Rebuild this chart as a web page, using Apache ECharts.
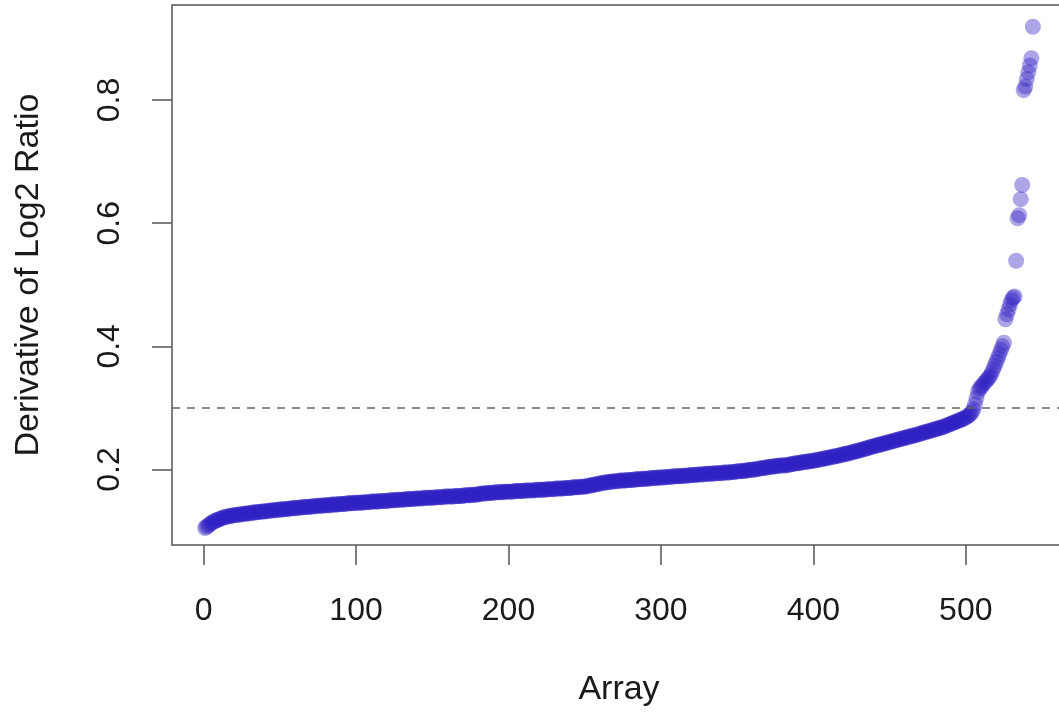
<!DOCTYPE html>
<html>
<head>
<meta charset="utf-8">
<script src="https://cdn.jsdelivr.net/npm/echarts@6/dist/echarts.min.js"></script>
<style>
html,body{margin:0;padding:0;background:#fff;overflow:hidden;}
#chart{width:1059px;height:717px;}
</style>
</head>
<body>
<div id="chart"></div>
<script>
// Sorted derivative-of-log2-ratio values, one per array (index 1..N)
const derivValues = [
0.105,0.107,0.109,0.111,0.113,0.114,0.116,0.117,0.118,0.119,
0.120,0.121,0.122,0.123,0.123,0.124,0.124,0.125,0.125,0.126,
0.126,0.126,0.127,0.127,0.127,0.128,0.128,0.128,0.129,0.129,
0.129,0.130,0.130,0.130,0.131,0.131,0.131,0.132,0.132,0.132,
0.132,0.133,0.133,0.133,0.134,0.134,0.134,0.134,0.135,0.135,
0.135,0.135,0.136,0.136,0.136,0.136,0.137,0.137,0.137,0.137,
0.138,0.138,0.138,0.138,0.139,0.139,0.139,0.139,0.139,0.140,
0.140,0.140,0.140,0.141,0.141,0.141,0.141,0.141,0.142,0.142,
0.142,0.142,0.142,0.143,0.143,0.143,0.143,0.143,0.144,0.144,
0.144,0.144,0.144,0.145,0.145,0.145,0.145,0.145,0.146,0.146,
0.146,0.146,0.146,0.146,0.147,0.147,0.147,0.147,0.147,0.148,
0.148,0.148,0.148,0.148,0.148,0.149,0.149,0.149,0.149,0.149,
0.149,0.150,0.150,0.150,0.150,0.150,0.151,0.151,0.151,0.151,
0.151,0.151,0.152,0.152,0.152,0.152,0.152,0.152,0.153,0.153,
0.153,0.153,0.153,0.153,0.154,0.154,0.154,0.154,0.154,0.154,
0.154,0.155,0.155,0.155,0.155,0.155,0.155,0.156,0.156,0.156,
0.156,0.156,0.156,0.156,0.157,0.157,0.157,0.157,0.157,0.157,
0.158,0.158,0.158,0.158,0.158,0.159,0.159,0.159,0.159,0.160,
0.160,0.161,0.161,0.161,0.161,0.162,0.162,0.162,0.162,0.162,
0.163,0.163,0.163,0.163,0.163,0.163,0.164,0.164,0.164,0.164,
0.164,0.164,0.164,0.165,0.165,0.165,0.165,0.165,0.165,0.165,
0.166,0.166,0.166,0.166,0.166,0.166,0.166,0.167,0.167,0.167,
0.167,0.167,0.167,0.167,0.168,0.168,0.168,0.168,0.168,0.168,
0.169,0.169,0.169,0.169,0.169,0.169,0.170,0.170,0.170,0.170,
0.170,0.171,0.171,0.171,0.171,0.171,0.172,0.172,0.172,0.172,
0.173,0.173,0.174,0.174,0.175,0.175,0.176,0.176,0.177,0.177,
0.178,0.178,0.179,0.179,0.179,0.180,0.180,0.180,0.181,0.181,
0.181,0.181,0.182,0.182,0.182,0.182,0.182,0.183,0.183,0.183,
0.183,0.183,0.184,0.184,0.184,0.184,0.184,0.185,0.185,0.185,
0.185,0.185,0.186,0.186,0.186,0.186,0.186,0.187,0.187,0.187,
0.187,0.187,0.188,0.188,0.188,0.188,0.188,0.189,0.189,0.189,
0.189,0.189,0.189,0.190,0.190,0.190,0.190,0.190,0.191,0.191,
0.191,0.191,0.191,0.192,0.192,0.192,0.192,0.192,0.193,0.193,
0.193,0.193,0.193,0.193,0.194,0.194,0.194,0.194,0.194,0.194,
0.195,0.195,0.195,0.195,0.195,0.196,0.196,0.196,0.196,0.197,
0.197,0.197,0.197,0.198,0.198,0.198,0.199,0.199,0.199,0.200,
0.200,0.200,0.201,0.201,0.202,0.202,0.202,0.203,0.203,0.204,
0.204,0.204,0.205,0.205,0.205,0.206,0.206,0.206,0.207,0.207,
0.206,0.207,0.207,0.208,0.208,0.209,0.209,0.210,0.210,0.210,
0.211,0.211,0.212,0.212,0.212,0.213,0.213,0.214,0.214,0.214,
0.215,0.215,0.216,0.216,0.217,0.217,0.218,0.218,0.219,0.219,
0.220,0.220,0.221,0.221,0.222,0.222,0.223,0.223,0.224,0.225,
0.225,0.226,0.226,0.227,0.228,0.228,0.229,0.230,0.230,0.231,
0.232,0.232,0.233,0.234,0.234,0.235,0.236,0.237,0.237,0.238,
0.239,0.239,0.240,0.241,0.241,0.242,0.243,0.243,0.244,0.245,
0.245,0.246,0.247,0.247,0.248,0.249,0.249,0.250,0.251,0.251,
0.252,0.253,0.253,0.254,0.255,0.255,0.256,0.257,0.257,0.258,
0.259,0.260,0.260,0.261,0.262,0.262,0.263,0.264,0.265,0.265,
0.266,0.267,0.268,0.268,0.269,0.270,0.271,0.272,0.273,0.274,
0.275,0.276,0.277,0.278,0.279,0.280,0.281,0.282,0.283,0.285,
0.286,0.288,0.290,0.293,0.298,0.306,0.316,0.326,0.331,0.334,
0.337,0.340,0.343,0.346,0.349,0.352,0.357,0.363,0.369,0.375,
0.381,0.387,0.394,0.400,0.406,0.444,0.452,0.460,0.468,0.475,
0.479,0.481,0.539,0.608,0.613,0.639,0.662,0.816,0.822,0.834,
0.845,0.856,0.868,0.919
];
const xTickValues = [0, 100, 200, 300, 400, 500];
const yTickValues = [0.2, 0.4, 0.6, 0.8];
const thresholdValue = 0.3;
const xTitle = 'Array';
const yTitle = 'Derivative of Log2 Ratio';

const points = derivValues.map((v, i) => [i + 1, v]);
const n = derivValues.length;
const xPad = (n - 1) * 0.04;
const yAxisMin = 0.0774, yAxisMax = 0.9543;

const chart = echarts.init(document.getElementById('chart'), null, {renderer: 'canvas'});
const font = 'Liberation Sans, Arial, Helvetica, sans-serif';
chart.setOption({
  animation: false,
  backgroundColor: '#ffffff',
  grid: {left: 172, top: 5, width: 894, height: 540, show: true, outerBoundsMode: 'none',
         borderColor: '#555555', borderWidth: 1.5, backgroundColor: 'transparent', containLabel: false},
  xAxis: {
    type: 'value', min: 1 - xPad, max: n + xPad,
    splitLine: {show: false},
    axisLine: {show: false, onZero: false},
    axisTick: {show: true, length: 20, lineStyle: {color: '#555555', width: 1.5}, customValues: xTickValues},
    axisLabel: {show: true, customValues: xTickValues, margin: 50, fontSize: 32, color: '#1a1a1a', fontFamily: font,
                showMinLabel: true, showMaxLabel: true},
    name: xTitle, nameLocation: 'middle', nameGap: 128,
    nameTextStyle: {fontSize: 34, color: '#1a1a1a', fontFamily: font}
  },
  yAxis: {
    type: 'value', min: yAxisMin, max: yAxisMax,
    splitLine: {show: false},
    axisLine: {show: false, onZero: false},
    axisTick: {show: true, length: 20, lineStyle: {color: '#555555', width: 1.5}, customValues: yTickValues},
    axisLabel: {show: true, customValues: yTickValues, rotate: 90, margin: 46, fontSize: 32, color: '#1a1a1a', fontFamily: font,
                formatter: v => v.toFixed(1)},
    name: yTitle, nameLocation: 'middle', nameGap: 126, nameRotate: 90,
    nameTextStyle: {fontSize: 34, color: '#1a1a1a', fontFamily: font}
  },
  series: [{
    type: 'scatter',
    data: points,
    symbol: 'circle',
    symbolSize: 16,
    itemStyle: {color: 'rgba(48,32,196,0.5)'},
    markLine: {
      silent: true, symbol: 'none', animation: false,
      label: {show: false},
      lineStyle: {type: [8, 7], color: '#666666', width: 1.5},
      data: [{yAxis: thresholdValue}]
    }
  }]
});
</script>
</body>
</html>
